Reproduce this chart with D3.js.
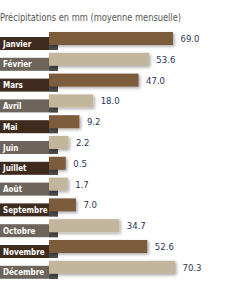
<!DOCTYPE html>
<html>
<head>
<meta charset="utf-8">
<script src="https://cdn.jsdelivr.net/npm/d3@7"></script>
<style>
  body { margin: 0; background: #fff; }
  svg { display: block; }
</style>
</head>
<body>
<div id="chart"></div>
<script>
// data
const months = ['Janvier', 'Février', 'Mars', 'Avril', 'Mai', 'Juin',
    'Juillet', 'Août', 'Septembre', 'Octobre', 'Novembre', 'Décembre'];
const rain = [69.0, 53.6, 47.0, 18.0, 9.2, 2.2, 0.5, 1.7, 7.0, 34.7, 52.6, 70.3];
const title = 'Précipitations en mm (moyenne mensuelle)';

const width = 242, height = 297;
const barLeft = 49, tabRight = 58;
const narrow = "'Liberation Sans Narrow', 'DejaVu Sans Condensed', sans-serif";

const svg = d3.select('#chart').append('svg')
    .attr('width', width)
    .attr('height', height);

// soft shadow under the bars
const defs = svg.append('defs');
const shadow = defs.append('filter')
    .attr('id', 'shadow')
    .attr('x', '-10%').attr('y', '-50%')
    .attr('width', '130%').attr('height', '250%');
shadow.append('feDropShadow')
    .attr('dx', 1.5).attr('dy', 1.5)
    .attr('stdDeviation', 1.6)
    .attr('flood-color', '#000')
    .attr('flood-opacity', 0.35);

svg.append('text')
    .attr('x', 0)
    .attr('y', 21)
    .attr('textLength', 181)
    .attr('lengthAdjust', 'spacingAndGlyphs')
    .style('font-family', narrow)
    .style('font-size', '10.5px')
    .style('fill', '#555')
    .text(title);

const x = d3.scaleLinear()
    .domain([0, 70.3])
    .range([65, 175]);

const y = d3.scaleBand()
    .domain(months)
    .range([32, 32 + 12 * 20.8]);

const rows = svg.selectAll('.row')
    .data(months.map((m, i) => ({ label: m, value: rain[i], i: i })))
    .enter()
    .append('g')
    .attr('class', 'row')
    .attr('transform', d => `translate(0,${y(d.label)})`);

// label tab
rows.append('rect')
    .attr('x', 0)
    .attr('y', 5)
    .attr('width', tabRight)
    .attr('height', 13)
    .attr('fill', d => d.i % 2 === 0 ? '#3e2b1e' : '#6d655b');

// folded corner under the bar
rows.append('path')
    .attr('d', `M${barLeft},13 L${tabRight},13 L${tabRight},18 L${barLeft},18 Z`)
    .attr('fill', '#4b4a48');

rows.append('text')
    .attr('x', 3)
    .attr('y', 14.5)
    .style('font-family', narrow)
    .style('font-weight', 'bold')
    .style('font-size', '8px')
    .style('fill', '#fff')
    .text(d => d.label);

// bars
rows.append('rect')
    .attr('x', barLeft)
    .attr('y', 0)
    .attr('width', d => x(d.value) - barLeft)
    .attr('height', 13)
    .attr('fill', d => d.i % 2 === 0 ? '#7c5b3d' : '#c2b69d')
    .attr('filter', 'url(#shadow)');

// values
rows.append('text')
    .attr('x', d => x(d.value) + 7.5)
    .attr('y', 10)
    .style('font-family', narrow)
    .style('font-size', '9.5px')
    .style('fill', '#2b3557')
    .text(d => d.value.toFixed(1));
</script>
</body>
</html>
